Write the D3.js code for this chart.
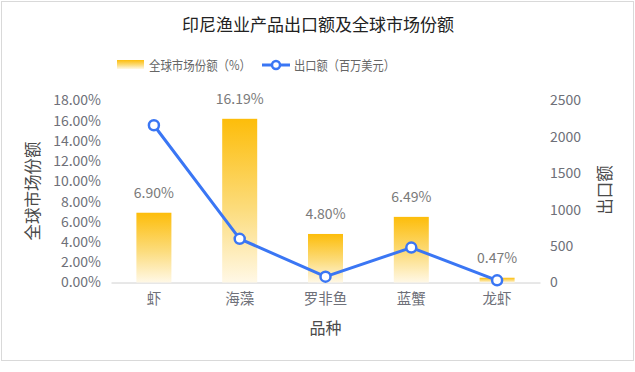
<!DOCTYPE html>
<html>
<head>
<meta charset="utf-8">
<script src="https://cdn.jsdelivr.net/npm/d3@7"></script>
<style>
  body { margin: 0; background: #fff; }
  text { font-family: "Noto Sans CJK SC", "Noto Sans", sans-serif; }
</style>
</head>
<body>
<script>
// data
const categories = ["虾", "海藻", "罗非鱼", "蓝蟹", "龙虾"];
const marketShare = [6.90, 16.19, 4.80, 6.49, 0.47];   // %
const exportValue = [2160, 600, 80, 480, 30];          // 百万美元
const shareTicks = [0, 2, 4, 6, 8, 10, 12, 14, 16, 18];
const valueTicks = [0, 500, 1000, 1500, 2000, 2500];

const width = 635, height = 372;
const plotLeft = 111, plotRight = 540, plotTop = 100.5, plotBottom = 282.5;
const lineColor = "#3a76f4";

const svg = d3.select("body").append("svg")
  .attr("width", width)
  .attr("height", height);

svg.append("rect")
  .attr("x", 1.5).attr("y", 1.5)
  .attr("width", 632).attr("height", 359)
  .attr("fill", "#fff")
  .attr("stroke", "#d9d9d9");

const defs = svg.append("defs");
const grad = defs.append("linearGradient")
  .attr("id", "barGrad")
  .attr("x1", 0).attr("y1", 0).attr("x2", 0).attr("y2", 1);
grad.append("stop").attr("offset", "0%").attr("stop-color", "#fdbd0a");
grad.append("stop").attr("offset", "55%").attr("stop-color", "#fcdc7c");
grad.append("stop").attr("offset", "100%").attr("stop-color", "#fff8e6");

const x = d3.scaleBand()
  .domain(categories)
  .range([plotLeft, plotRight]);

const yLeft = d3.scaleLinear().domain([0, 18]).range([plotBottom, plotTop]);
const yRight = d3.scaleLinear().domain([0, 2500]).range([plotBottom, plotTop]);

// title
svg.append("text")
  .attr("x", 318).attr("y", 31)
  .attr("text-anchor", "middle")
  .attr("font-size", 17)
  .attr("fill", "#222")
  .text("印尼渔业产品出口额及全球市场份额");

// legend
const legend = svg.append("g");
legend.append("rect")
  .attr("x", 117).attr("y", 60).attr("width", 27).attr("height", 9)
  .attr("fill", "url(#barGrad)");
legend.append("text")
  .attr("x", 149).attr("y", 69.5)
  .attr("font-size", 13).attr("fill", "#666")
  .attr("textLength", 102).attr("lengthAdjust", "spacingAndGlyphs")
  .text("全球市场份额（%）");
legend.append("line")
  .attr("x1", 262).attr("x2", 290).attr("y1", 65).attr("y2", 65)
  .attr("stroke", lineColor).attr("stroke-width", 3);
legend.append("circle")
  .attr("cx", 276).attr("cy", 65).attr("r", 4)
  .attr("fill", "#fff").attr("stroke", lineColor).attr("stroke-width", 2.5);
legend.append("text")
  .attr("x", 294).attr("y", 69.5)
  .attr("font-size", 13).attr("fill", "#666")
  .attr("textLength", 101).attr("lengthAdjust", "spacingAndGlyphs")
  .text("出口额（百万美元）");

// left axis
const leftAxis = svg.append("g")
  .attr("transform", `translate(${plotLeft},0)`)
  .call(d3.axisLeft(yLeft).tickValues(shareTicks).tickSize(0).tickPadding(10)
    .tickFormat(d => d.toFixed(2) + "%"));
leftAxis.select(".domain").remove();
leftAxis.selectAll("text")
  .attr("font-size", 14).attr("fill", "#6e7079")
  .style("font-family", "'Noto Sans CJK SC', sans-serif");

// right axis
const rightAxis = svg.append("g")
  .attr("transform", `translate(${plotRight},0)`)
  .call(d3.axisRight(yRight).tickValues(valueTicks).tickSize(0).tickPadding(10)
    .tickFormat(d3.format("d")));
rightAxis.select(".domain").remove();
rightAxis.selectAll("text")
  .attr("font-size", 14).attr("fill", "#6e7079")
  .style("font-family", "'Noto Sans CJK SC', sans-serif");

// bottom axis
const bottomAxis = svg.append("g")
  .attr("transform", `translate(0,${plotBottom})`)
  .call(d3.axisBottom(x).tickSize(0).tickPadding(11));
bottomAxis.select(".domain").attr("stroke", "#d0d0d0");
bottomAxis.selectAll("text")
  .attr("font-size", 14.5).attr("fill", "#6e7079")
  .style("font-family", "'Noto Sans CJK SC', sans-serif");

// axis names
svg.append("text")
  .attr("transform", "translate(39,191) rotate(-90)")
  .attr("text-anchor", "middle")
  .attr("font-size", 16.5).attr("fill", "#4a4a4a")
  .text("全球市场份额");
svg.append("text")
  .attr("transform", "translate(611,190) rotate(-90)")
  .attr("text-anchor", "middle")
  .attr("font-size", 16.5).attr("fill", "#4a4a4a")
  .text("出口额");
svg.append("text")
  .attr("x", (plotLeft + plotRight) / 2).attr("y", 334)
  .attr("text-anchor", "middle")
  .attr("font-size", 16).attr("fill", "#4a4a4a")
  .text("品种");

// bars
const barW = 35;
const bars = svg.append("g");
bars.selectAll("rect")
  .data(marketShare)
  .join("rect")
  .attr("x", (d, i) => x(categories[i]) + x.bandwidth() / 2 - barW / 2)
  .attr("y", d => yLeft(d))
  .attr("width", barW)
  .attr("height", d => plotBottom - yLeft(d))
  .attr("fill", "url(#barGrad)");

bars.selectAll("text")
  .data(marketShare)
  .join("text")
  .attr("x", (d, i) => x(categories[i]) + x.bandwidth() / 2)
  .attr("y", d => yLeft(d) - 15)
  .attr("text-anchor", "middle")
  .attr("font-size", 14).attr("fill", "#7a7a7a")
  .text(d => d.toFixed(2) + "%");

// line
const pts = exportValue.map((v, i) => [x(categories[i]) + x.bandwidth() / 2, yRight(v)]);
svg.append("path")
  .attr("d", d3.line()(pts))
  .attr("fill", "none")
  .attr("stroke", lineColor)
  .attr("stroke-width", 3)
  .attr("stroke-linejoin", "round");

svg.append("g").selectAll("circle")
  .data(pts)
  .join("circle")
  .attr("cx", d => d[0]).attr("cy", d => d[1])
  .attr("r", 5)
  .attr("fill", "#fff")
  .attr("stroke", lineColor)
  .attr("stroke-width", 2.5);
</script>
</body>
</html>
